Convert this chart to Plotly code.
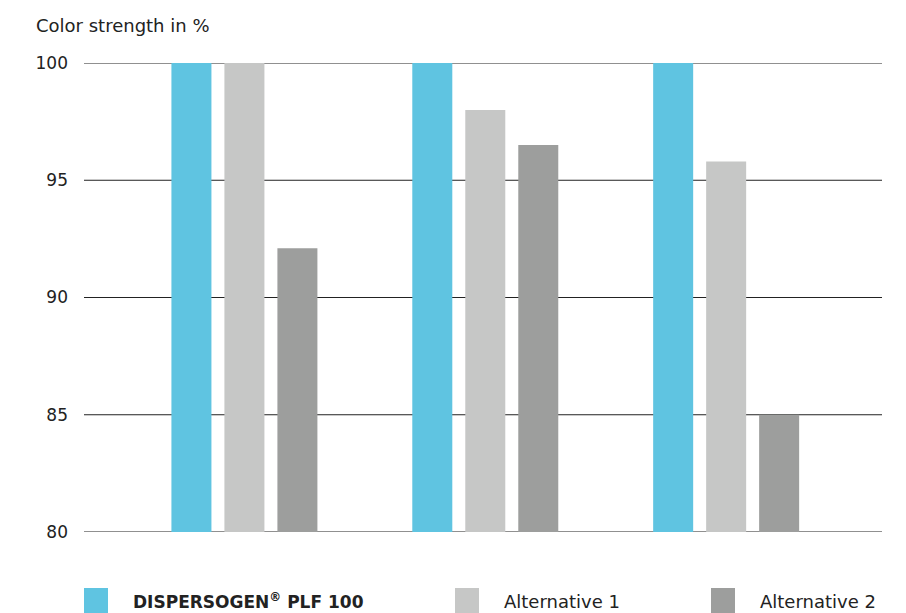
import plotly.graph_objects as go

categories = ["A", "B", "C"]
series_names = ["DISPERSOGEN® PLF 100", "Alternative 1", "Alternative 2"]
dispersogen = [100, 100, 100]
alternative1 = [100, 98.0, 95.8]
alternative2 = [92.1, 96.5, 85.0]
colors = ["#5fc4e1", "#c6c7c6", "#9d9e9d"]
y_ticks = [80, 85, 90, 95, 100]

FONT = "DejaVu Sans"
TXT = "#222222"
fig = go.Figure()
for name, vals, col in zip(series_names, [dispersogen, alternative1, alternative2], colors):
    fig.add_trace(go.Bar(x=[0, 1, 2], y=vals, name=name, marker_color=col,
                         marker_line_width=0, showlegend=False))

# horizontal grid lines (including edges)
for t in y_ticks:
    fig.add_shape(type="line", xref="paper", yref="y", x0=0, x1=1, y0=t, y1=t,
                  line=dict(color="#222222", width=1.2), layer="below")

fig.update_layout(
    width=906, height=613,
    margin=dict(l=84, r=24, t=63, b=81),
    paper_bgcolor="white", plot_bgcolor="white",
    barmode="group", bargap=0.34, bargroupgap=0.245,
    font=dict(family=FONT, color=TXT, size=16),
    xaxis=dict(range=[-0.666, 2.647], showticklabels=False, showgrid=False,
               zeroline=False, showline=False, ticks=""),
    yaxis=dict(range=[80, 100], tickvals=y_ticks, showgrid=False,
               zeroline=False, showline=False, ticks="", ticklabelstandoff=15,
               tickfont=dict(size=17, color=TXT, family=FONT)),
)

fig.add_annotation(text="Color strength in %", xref="paper", yref="paper",
                   x=(34 - 84)/798, y=1 + 37/469, xanchor="left", yanchor="middle",
                   showarrow=False, font=dict(size=18, color=TXT, family=FONT))

# custom legend
leg_x = [84, 455, 711]
for i, (name, col) in enumerate(zip(series_names, colors)):
    x0 = (leg_x[i] - 84) / 798
    fig.add_shape(type="rect", xref="paper", yref="paper",
                  x0=x0, x1=x0 + 24/798, y0=-(588 - 532)/469, y1=-(613 - 532)/469,
                  fillcolor=col, line_width=0)
    label = "<b>DISPERSOGEN<sup>®</sup> PLF 100</b>" if i == 0 else name
    fig.add_annotation(text=label, xref="paper", yref="paper",
                       x=x0 + 47/798, y=-(601 - 532)/469, xanchor="left", yanchor="middle",
                       showarrow=False, font=dict(size=17 if i == 0 else 18, color=TXT, family=FONT))

fig.write_html("out.html")
